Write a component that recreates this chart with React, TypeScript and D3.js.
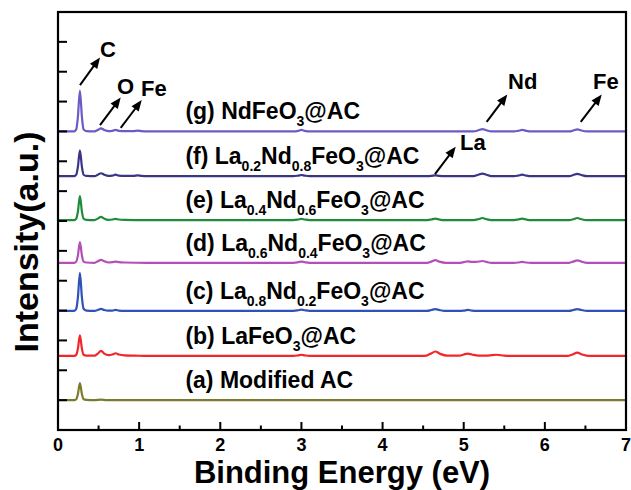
import React from 'react';
import * as d3 from 'd3';

// ---------- data ----------
const xTicks = [0, 1, 2, 3, 4, 5, 6, 7];
const xMinorTicks = [0.5, 1.5, 2.5, 3.5, 4.5, 5.5, 6.5];
const yTicks = [100, 200, 300, 400, 500, 600, 700, 800, 900, 1000, 1100, 1200, 1300];

// spectra: [binding energy (eV), intensity above own baseline (a.u.)]
const specG: [number, number][] = [
  [0, 0], [0.2, 0], [0.225, 7], [0.245, 48], [0.27, 137], [0.295, 48], [0.315, 7], [0.35, 1], [0.45, 0],
  [0.49, 5], [0.53, 10], [0.57, 5], [0.62, 1], [0.67, 2], [0.71, 5], [0.75, 2], [0.82, 1], [0.93, 1],
  [0.98, 3], [1.03, 1], [1.1, 0], [2.9, 0], [2.96, 2], [3.0, 5], [3.04, 2], [3.1, 0], [5.12, 0],
  [5.18, 4], [5.23, 8], [5.28, 4], [5.34, 0], [5.62, 0], [5.67, 2], [5.72, 5], [5.77, 2], [5.83, 0],
  [6.3, 0], [6.35, 3], [6.4, 7], [6.45, 3], [6.52, 0], [7, 0],
];
const specF: [number, number][] = [
  [0, 0], [0.2, 0], [0.225, 5], [0.245, 31], [0.27, 87], [0.295, 31], [0.315, 5], [0.35, 1], [0.45, 0],
  [0.49, 5], [0.53, 10], [0.57, 5], [0.62, 1], [0.67, 2], [0.71, 5], [0.75, 2], [0.82, 1], [0.93, 1],
  [0.98, 3], [1.03, 1], [1.1, 0], [2.9, 0], [2.96, 2], [3.0, 4], [3.04, 2], [3.1, 0], [4.55, 0],
  [4.6, 1], [4.65, 3], [4.7, 1], [4.76, 0], [5.12, 0], [5.18, 5], [5.23, 9], [5.28, 5], [5.34, 0],
  [5.62, 0], [5.67, 2], [5.72, 5], [5.77, 2], [5.83, 0], [6.3, 0], [6.35, 4], [6.4, 8], [6.45, 4],
  [6.52, 0], [7, 0],
];
const specE: [number, number][] = [
  [0, 0], [0.2, 0], [0.225, 5], [0.245, 28], [0.27, 80], [0.295, 28], [0.315, 5], [0.35, 1], [0.45, 0],
  [0.49, 5], [0.53, 11], [0.57, 5], [0.62, 1], [0.67, 2], [0.71, 4], [0.75, 2], [0.82, 1], [1.1, 0],
  [2.9, 0], [2.96, 2], [3.0, 4], [3.04, 2], [3.1, 0], [4.55, 0], [4.6, 2], [4.65, 5], [4.7, 2],
  [4.76, 0], [5.12, 0], [5.18, 3], [5.23, 7], [5.28, 3], [5.34, 0], [5.62, 0], [5.67, 2], [5.72, 5],
  [5.77, 2], [5.83, 0], [6.3, 0], [6.35, 3], [6.4, 7], [6.45, 3], [6.52, 0], [7, 0],
];
const specD: [number, number][] = [
  [0, 0], [0.2, 0], [0.225, 4], [0.245, 24], [0.27, 69], [0.295, 24], [0.315, 4], [0.35, 1], [0.45, 0],
  [0.49, 5], [0.53, 10], [0.57, 5], [0.62, 1], [0.67, 2], [0.71, 4], [0.75, 2], [0.82, 1], [1.1, 0],
  [2.9, 0], [2.96, 2], [3.0, 4], [3.04, 2], [3.1, 0], [4.55, 0], [4.6, 4], [4.65, 9], [4.7, 4],
  [4.78, 0], [4.96, 0], [5.0, 2], [5.05, 5], [5.1, 3], [5.15, 3], [5.23, 6], [5.28, 3], [5.34, 0],
  [5.62, 0], [5.67, 1], [5.72, 3], [5.77, 1], [5.83, 0], [6.3, 0], [6.35, 4], [6.4, 8], [6.45, 4],
  [6.52, 0], [7, 0],
];
const specC: [number, number][] = [
  [0, 0], [0.2, 0], [0.225, 7], [0.245, 44], [0.27, 127], [0.295, 44], [0.315, 7], [0.35, 1], [0.45, 0],
  [0.49, 3], [0.53, 7], [0.57, 3], [0.62, 1], [0.67, 1], [0.71, 3], [0.75, 1], [0.82, 0], [2.9, 0],
  [2.96, 2], [3.0, 4], [3.04, 2], [3.1, 0], [4.55, 0], [4.6, 3], [4.65, 6], [4.7, 3], [4.76, 0],
  [4.96, 0], [5.0, 1], [5.05, 3], [5.1, 1], [5.16, 0], [6.3, 0], [6.35, 3], [6.4, 6], [6.45, 3],
  [6.52, 0], [7, 0],
];
const specB: [number, number][] = [
  [0, 0], [0.2, 0], [0.225, 4], [0.245, 24], [0.27, 69], [0.295, 24], [0.315, 4], [0.35, 1], [0.45, 1],
  [0.49, 8], [0.53, 17], [0.57, 8], [0.62, 3], [0.67, 5], [0.71, 9], [0.75, 5], [0.82, 2], [0.95, 1],
  [1.1, 0], [2.9, 0], [2.96, 2], [3.0, 4], [3.04, 2], [3.1, 0], [4.52, 0], [4.59, 7], [4.65, 15],
  [4.71, 7], [4.8, 1], [4.95, 1], [5.0, 5], [5.05, 8], [5.1, 5], [5.18, 1], [5.3, 1], [5.4, 4],
  [5.5, 1], [5.6, 0], [6.28, 0], [6.34, 5], [6.4, 11], [6.46, 5], [6.54, 0], [7, 0],
];
const specA: [number, number][] = [
  [0, 0], [0.2, 0], [0.225, 3], [0.245, 20], [0.27, 57], [0.295, 20], [0.315, 3], [0.35, 1], [0.45, 0],
  [0.53, 2], [0.6, 0], [7, 0],
];

const seriesIds = ['g', 'f', 'e', 'd', 'c', 'b', 'a'];
const seriesSpectra = [specG, specF, specE, specD, specC, specB, specA];
const seriesOffsets = [1000, 850, 703, 560, 399, 248, 100];
const seriesColors = ['#6a5cc4', '#3a3686', '#1f8b3b', '#b54fb8', '#2f52b4', '#f2272b', '#7b7b2e'];
// label parts: [text, isSubscript]
const seriesLabels: [string, boolean][][] = [
  [['(g) NdFeO', false], ['3', true], ['@AC', false]],
  [['(f) La', false], ['0.2', true], ['Nd', false], ['0.8', true], ['FeO', false], ['3', true], ['@AC', false]],
  [['(e) La', false], ['0.4', true], ['Nd', false], ['0.6', true], ['FeO', false], ['3', true], ['@AC', false]],
  [['(d) La', false], ['0.6', true], ['Nd', false], ['0.4', true], ['FeO', false], ['3', true], ['@AC', false]],
  [['(c) La', false], ['0.8', true], ['Nd', false], ['0.2', true], ['FeO', false], ['3', true], ['@AC', false]],
  [['(b) LaFeO', false], ['3', true], ['@AC', false]],
  [['(a) Modified AC', false]],
];

// element annotations: text, text position, arrow from -> to (eV, a.u.)
const annTexts = ['C', 'O', 'Fe', 'Nd', 'Fe', 'La'];
const annTextPos: [number, number][] = [[0.518, 1249], [0.727, 1127], [1.023, 1120], [5.546, 1142], [6.593, 1142], [4.954, 938]];
const annArrowFrom: [number, number][] = [[0.271, 1155], [0.518, 1021], [0.773, 1012], [5.283, 1032], [6.442, 1032], [4.646, 857]];
const annArrowTo: [number, number][] = [[0.518, 1248], [0.773, 1114], [1.032, 1105], [5.537, 1124], [6.701, 1124], [4.901, 949]];

// ---------- chart ----------
const W = 631;
const H = 490;
const L = 58, R = 626, T = 12, B = 430;
const FONT = "'Liberation Sans', Arial, Helvetica, sans-serif";

export default function App() {
  const x = d3.scaleLinear().domain([0, 7]).range([L, R]);
  const y = d3.scaleLinear().domain([0, 1400]).range([B, T]);

  const arrow = (i: number) => {
    const x0 = x(annArrowFrom[i][0]), y0 = y(annArrowFrom[i][1]);
    const x1 = x(annArrowTo[i][0]), y1 = y(annArrowTo[i][1]);
    const dx = x1 - x0, dy = y1 - y0;
    const len = Math.hypot(dx, dy);
    const ux = dx / len, uy = dy / len;
    const hl = 11, hw = 4.5;
    const bx = x1 - ux * hl, by = y1 - uy * hl;
    const pts = [
      [x1, y1],
      [bx - uy * hw, by + ux * hw],
      [bx + uy * hw, by - ux * hw],
    ];
    return (
      <g key={'arr' + i}>
        <line x1={x0} y1={y0} x2={bx + ux * 2} y2={by + uy * 2} stroke="#000" strokeWidth={2} />
        <polygon points={pts.map((p) => p.join(',')).join(' ')} fill="#000" />
      </g>
    );
  };

  return (
    <svg width={W} height={H} style={{ position: 'absolute', left: 0, top: 0, background: '#fff' }} fontFamily={FONT}>
      <rect x={0} y={0} width={W} height={H} fill="#fff" />
      {/* spectra */}
      {seriesSpectra.map((spec, i) => {
        const line = d3
          .line<[number, number]>()
          .x((d) => x(d[0]))
          .y((d) => y(d[1] + seriesOffsets[i]))
          .curve(d3.curveMonotoneX);
        return (
          <path key={seriesIds[i]} d={line(spec) || ''} fill="none" stroke={seriesColors[i]} strokeWidth={2.2} strokeLinejoin="round" />
        );
      })}
      {/* labels */}
      {seriesLabels.map((parts, i) => {
        let prevSub = false;
        return (
          <text key={'lab' + i} x={x(1.57)} y={y(seriesOffsets[i] + 40)} fontSize={23} fontWeight="bold" fill="#000">
            {parts.map(([t, sub], j) => {
              const dy = sub && !prevSub ? 7 : !sub && prevSub ? -7 : 0;
              prevSub = sub;
              return (
                <tspan key={j} dy={dy} fontSize={sub ? 14 : 23}>
                  {t}
                </tspan>
              );
            })}
          </text>
        );
      })}
      {/* annotations */}
      {annTexts.map((t, i) => (
        <text key={'ann' + i} x={x(annTextPos[i][0])} y={y(annTextPos[i][1])} fontSize={22} fontWeight="bold" fill="#000">
          {t}
        </text>
      ))}
      {annTexts.map((_, i) => arrow(i))}
      {/* ticks */}
      {xTicks.map((t) => (
        <line key={'xt' + t} x1={x(t)} x2={x(t)} y1={B} y2={B - 8} stroke="#000" strokeWidth={2} />
      ))}
      {xMinorTicks.map((t) => (
        <line key={'xm' + t} x1={x(t)} x2={x(t)} y1={B} y2={B - 4.5} stroke="#000" strokeWidth={2} />
      ))}
      {yTicks.map((t) => (
        <line key={'yt' + t} x1={L} x2={L + 9} y1={y(t)} y2={y(t)} stroke="#000" strokeWidth={2} />
      ))}
      {xTicks.map((t) => (
        <text key={'xl' + t} x={x(t)} y={451} textAnchor="middle" fontSize={18} fontWeight="bold" fill="#000">
          {t}
        </text>
      ))}
      {/* frame */}
      <rect x={L} y={T} width={R - L} height={B - T} fill="none" stroke="#000" strokeWidth={2.2} />
      {/* axis titles */}
      <text x={(L + R) / 2} y={483} textAnchor="middle" fontSize={31} fontWeight="bold" fill="#000">
        Binding Energy (eV)
      </text>
      <text transform="translate(37.5,242) rotate(-90)" textAnchor="middle" fontSize={34} fontWeight="bold" fill="#000">
        Intensity(a.u.)
      </text>
    </svg>
  );
}
